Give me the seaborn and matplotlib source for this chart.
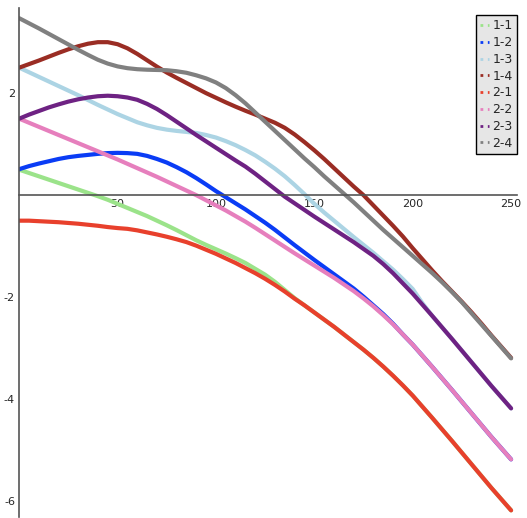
import numpy as np
import pandas as pd
import matplotlib
matplotlib.use("Agg")
import matplotlib.pyplot as plt
import seaborn as sns

x_vals = list(range(0, 251, 5))

s_1_1 = [0.50, 0.435, 0.37, 0.305, 0.24, 0.175, 0.11, 0.045, -0.02, -0.09,
         -0.17, -0.25, -0.33, -0.41, -0.50, -0.59, -0.685, -0.785, -0.885, -0.975,
         -1.06, -1.145, -1.235, -1.33, -1.445, -1.56, -1.70, -1.86, -2.02, -2.16,
         -2.30, -2.44, -2.58, -2.73, -2.88, -3.03, -3.19, -3.36, -3.54, -3.73,
         -3.93, -4.15, -4.37, -4.595, -4.82, -5.05, -5.28, -5.51, -5.74, -5.96,
         -6.18]
s_1_2 = [0.51, 0.57, 0.62, 0.665, 0.71, 0.745, 0.77, 0.79, 0.81, 0.825,
         0.83, 0.825, 0.81, 0.77, 0.71, 0.64, 0.55, 0.45, 0.335, 0.21,
         0.08, -0.04, -0.16, -0.28, -0.41, -0.54, -0.68, -0.83, -0.98, -1.125,
         -1.27, -1.41, -1.55, -1.69, -1.83, -1.99, -2.16, -2.33, -2.52, -2.73,
         -2.93, -3.15, -3.37, -3.595, -3.82, -4.05, -4.28, -4.51, -4.74, -4.96,
         -5.18]
s_1_3 = [2.50, 2.41, 2.32, 2.23, 2.14, 2.05, 1.96, 1.865, 1.77, 1.68,
         1.59, 1.51, 1.43, 1.37, 1.32, 1.285, 1.26, 1.24, 1.22, 1.18,
         1.13, 1.06, 0.98, 0.885, 0.78, 0.655, 0.52, 0.37, 0.20, 0.02,
         -0.17, -0.34, -0.50, -0.66, -0.82, -0.975, -1.13, -1.295, -1.46, -1.645,
         -1.84, -2.12, -2.37, -2.595, -2.82, -3.05, -3.28, -3.51, -3.74, -3.96,
         -4.18]
s_1_4 = [2.50, 2.57, 2.64, 2.715, 2.79, 2.86, 2.92, 2.97, 3.00, 3.00,
         2.96, 2.88, 2.77, 2.645, 2.52, 2.405, 2.30, 2.20, 2.10, 2.00,
         1.91, 1.82, 1.735, 1.655, 1.58, 1.50, 1.42, 1.32, 1.19, 1.04,
         0.88, 0.71, 0.53, 0.35, 0.17, 0.00, -0.20, -0.40, -0.60, -0.81,
         -1.04, -1.26, -1.48, -1.69, -1.89, -2.09, -2.30, -2.52, -2.75, -2.97,
         -3.19]
s_2_1 = [-0.50, -0.50, -0.51, -0.52, -0.53, -0.545, -0.56, -0.58, -0.60, -0.625,
         -0.645, -0.66, -0.69, -0.73, -0.77, -0.815, -0.865, -0.92, -0.99, -1.07,
         -1.15, -1.24, -1.33, -1.43, -1.53, -1.64, -1.76, -1.89, -2.03, -2.16,
         -2.30, -2.44, -2.58, -2.73, -2.88, -3.03, -3.19, -3.36, -3.54, -3.73,
         -3.93, -4.15, -4.37, -4.595, -4.82, -5.05, -5.28, -5.51, -5.74, -5.96,
         -6.18]
s_2_2 = [1.50, 1.42, 1.34, 1.26, 1.18, 1.10, 1.02, 0.94, 0.86, 0.78,
         0.70, 0.615, 0.53, 0.445, 0.36, 0.27, 0.18, 0.09, 0.00, -0.10,
         -0.20, -0.30, -0.41, -0.52, -0.64, -0.765, -0.89, -1.015, -1.14, -1.26,
         -1.38, -1.50, -1.62, -1.75, -1.88, -2.025, -2.18, -2.35, -2.53, -2.73,
         -2.93, -3.15, -3.37, -3.595, -3.82, -4.05, -4.28, -4.51, -4.74, -4.96,
         -5.18]
s_2_3 = [1.50, 1.58, 1.65, 1.72, 1.78, 1.835, 1.88, 1.915, 1.94, 1.95,
         1.94, 1.915, 1.87, 1.79, 1.69, 1.57, 1.44, 1.31, 1.18, 1.055,
         0.93, 0.805, 0.68, 0.56, 0.42, 0.27, 0.12, -0.03, -0.16, -0.29,
         -0.42, -0.545, -0.67, -0.795, -0.92, -1.055, -1.19, -1.35, -1.53, -1.73,
         -1.93, -2.15, -2.37, -2.595, -2.82, -3.05, -3.28, -3.51, -3.74, -3.96,
         -4.18]
s_2_4 = [3.47, 3.37, 3.27, 3.165, 3.06, 2.955, 2.85, 2.75, 2.655, 2.58,
         2.525, 2.49, 2.47, 2.46, 2.455, 2.45, 2.43, 2.40, 2.35, 2.29,
         2.21, 2.10, 1.96, 1.80, 1.62, 1.44, 1.26, 1.08, 0.90, 0.72,
         0.55, 0.37, 0.20, 0.03, -0.14, -0.32, -0.50, -0.68, -0.85, -1.02,
         -1.19, -1.36, -1.53, -1.71, -1.90, -2.10, -2.32, -2.54, -2.76, -2.98,
         -3.20]

labels = ["1-1", "1-2", "1-3", "1-4", "2-1", "2-2", "2-3", "2-4"]
series = [s_1_1, s_1_2, s_1_3, s_1_4, s_2_1, s_2_2, s_2_3, s_2_4]
colors = ["#9be38a", "#0a3cf5", "#acd4e4", "#9a2d24",
          "#e8402c", "#e67fbd", "#6e2283", "#808080"]

df = pd.concat([pd.DataFrame({"x": x_vals, "y": s, "curve": lab})
                for lab, s in zip(labels, series)], ignore_index=True)

sns.set_style("white")
plt.rcParams["axes.unicode_minus"] = False
fig = plt.figure(figsize=(5.27, 5.18), dpi=100)
ax = fig.add_axes([19.2 / 527, 1 / 518, 497.8 / 527, 509 / 518])

sns.lineplot(data=df, x="x", y="y", hue="curve", hue_order=labels,
             palette=dict(zip(labels, colors)), linewidth=3, ax=ax,
             estimator=None, sort=True)

ax.set_xlim(0, 253)
ax.set_ylim(-6.31, 3.67)

# sage-like axes through the origin
ax.spines["left"].set_position(("data", 0))
ax.spines["bottom"].set_position(("data", 0))
ax.spines["right"].set_visible(False)
ax.spines["top"].set_visible(False)
for sp in ["left", "bottom"]:
    ax.spines[sp].set_color("#555555")
    ax.spines[sp].set_linewidth(1.2)

ax.set_xticks([50, 100, 150, 200, 250])
ax.set_xticks(np.arange(10, 251, 10), minor=True)
ax.set_yticks([-6, -4, -2, 2])
ax.set_yticks([-5, -3, -1, 1, 3], minor=True)
ax.tick_params(axis="both", which="major", direction="in", length=4,
               width=1, color="#555555", labelsize=8, pad=3)
ax.tick_params(axis="both", which="minor", direction="in", length=2.5,
               width=0.8, color="#555555")
ax.set_xlabel("")
ax.set_ylabel("")
ax.set_facecolor("none")

leg = ax.legend(loc="upper right", bbox_to_anchor=(517 / 527, 1 - 15 / 518),
                bbox_transform=fig.transFigure, borderaxespad=0,
                fontsize=9, handlelength=0.7, handletextpad=0.3,
                labelspacing=0.3, borderpad=0.35, fancybox=False,
                framealpha=1, facecolor="#e6e6e6", edgecolor="black")
leg.get_frame().set_linewidth(1)
for ln in leg.get_lines():
    ln.set_linestyle(":")
    ln.set_linewidth(2)

fig.savefig("out.png", dpi=100)
